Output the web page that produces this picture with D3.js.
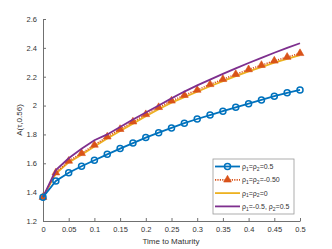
<!DOCTYPE html>
<html><head><meta charset="utf-8">
<script src="https://cdn.jsdelivr.net/npm/d3@7"></script>
<style>body{margin:0;background:#fff;} text{font-family:"Liberation Sans",Arial,sans-serif;}</style>
</head><body><svg id="c" width="332" height="249"></svg>
<script>
const tVals = [0,0.025,0.05,0.075,0.1,0.125,0.15,0.175,0.2,0.225,0.25,0.275,0.3,0.325,0.35,0.375,0.4,0.425,0.45,0.475,0.5];
const blue   = [1.365,1.477,1.535,1.579,1.621,1.662,1.702,1.740,1.778,1.812,1.845,1.878,1.907,1.934,1.961,1.988,2.013,2.039,2.065,2.088,2.108];
const orange = [1.365,1.535,1.616,1.669,1.727,1.784,1.836,1.888,1.939,1.988,2.033,2.072,2.108,2.147,2.182,2.217,2.250,2.280,2.310,2.336,2.362];
const yellow = [1.365,1.528,1.606,1.659,1.716,1.772,1.824,1.875,1.926,1.975,2.020,2.059,2.096,2.134,2.169,2.204,2.237,2.267,2.297,2.323,2.349];
const purple = [1.365,1.553,1.635,1.700,1.760,1.800,1.852,1.903,1.952,2.000,2.050,2.097,2.140,2.180,2.220,2.258,2.295,2.330,2.366,2.400,2.432];
const xTicks = [0,0.05,0.1,0.15,0.2,0.25,0.3,0.35,0.4,0.45,0.5];
const yTicks = [1.2,1.4,1.6,1.8,2,2.2,2.4,2.6];

const svg = d3.select("#c");
const x = d3.scaleLinear().domain([0,0.5]).range([43,300]);
const y = d3.scaleLinear().domain([1.2,2.6]).range([221,19]);
const axCol = "#707070";

const gx = svg.append("g").attr("transform","translate(0,221)")
  .call(d3.axisBottom(x).tickValues(xTicks).tickSizeInner(-3).tickSizeOuter(0).tickPadding(6).tickFormat(d=>d3.format("")(d)));
const gy = svg.append("g").attr("transform","translate(43,0)")
  .call(d3.axisLeft(y).tickValues(yTicks).tickSizeInner(-3).tickSizeOuter(0).tickPadding(6).tickFormat(d=>d3.format("")(d)));
[gx,gy].forEach(g=>{
  g.selectAll("path,line").attr("stroke",axCol);
  g.selectAll("text").attr("fill","#333").style("font-size","7.5px").style("font-family","Liberation Sans, Arial, sans-serif");
});

const line = d3.line().x((d,i)=>x(tVals[i])).y(d=>y(d));
const C = {blue:"#0072BD",orange:"#D95319",yellow:"#EDB120",purple:"#7E2F8E"};

svg.append("path").datum(yellow).attr("d",line).attr("fill","none").attr("stroke",C.yellow).attr("stroke-width",1.8);
svg.append("path").datum(orange).attr("d",line).attr("fill","none").attr("stroke",C.orange).attr("stroke-width",1.5).attr("stroke-dasharray","1.2,1.2");
svg.selectAll(".tri").data(orange).enter().append("path")
  .attr("d",d3.symbol().type(d3.symbolTriangle).size(26))
  .attr("transform",(d,i)=>`translate(${x(tVals[i])},${y(d)})`)
  .attr("fill",C.orange).attr("stroke",C.orange).attr("stroke-width",0.6);
svg.append("path").datum(purple).attr("d",line).attr("fill","none").attr("stroke",C.purple).attr("stroke-width",1.8);
svg.append("path").datum(blue).attr("d",line).attr("fill","none").attr("stroke",C.blue).attr("stroke-width",1.8);
svg.selectAll(".circ").data(blue).enter().append("circle")
  .attr("cx",(d,i)=>x(tVals[i])).attr("cy",d=>y(d)).attr("r",3)
  .attr("fill","none").attr("stroke",C.blue).attr("stroke-width",1.5);

// labels
svg.append("text").attr("x",171).attr("y",244).attr("text-anchor","middle").style("font-size","8px").attr("fill","#333").text("Time to Maturity");
svg.append("text").attr("transform","translate(22,120) rotate(-90)").attr("text-anchor","middle").style("font-size","8px").attr("fill","#333").text("A(τ,0.56)");

// legend
const lg = svg.append("g");
lg.append("rect").attr("x",213).attr("y",159).attr("width",81).attr("height",55).attr("fill","#fff").attr("stroke","#999").attr("stroke-width",0.8);
const items = [
  {c:C.blue, dash:null, mark:"o", parts:[["ρ",""],["1","sub"],["=ρ",""],["2","sub"],["=0.5",""]]},
  {c:C.orange, dash:"1.2,1.2", mark:"^", parts:[["ρ",""],["1","sub"],["=ρ",""],["2","sub"],["=-0.50",""]]},
  {c:C.yellow, dash:null, mark:null, parts:[["ρ",""],["1","sub"],["=ρ",""],["2","sub"],["=0",""]]},
  {c:C.purple, dash:null, mark:null, parts:[["ρ",""],["1","sub"],["=-0.5, ρ",""],["2","sub"],["=0.5",""]]}
];
items.forEach((it,k)=>{
  const yy = 166.5 + k*13.3;
  lg.append("line").attr("x1",215).attr("x2",240).attr("y1",yy).attr("y2",yy).attr("stroke",it.c).attr("stroke-width",1.8).attr("stroke-dasharray",it.dash);
  if(it.mark==="o") lg.append("circle").attr("cx",227.5).attr("cy",yy).attr("r",3).attr("fill","none").attr("stroke",it.c).attr("stroke-width",1.5);
  if(it.mark==="^") lg.append("path").attr("d",d3.symbol().type(d3.symbolTriangle).size(26)).attr("transform",`translate(227.5,${yy})`).attr("fill",it.c).attr("stroke",it.c).attr("stroke-width",0.6);
  const t = lg.append("text").attr("x",242).attr("y",yy+2.5).style("font-size","7px").attr("fill","#333");
  it.parts.forEach(p=>{
    const ts = t.append("tspan").text(p[0]);
    if(p[1]==="sub") ts.style("font-size","5px").attr("dy",1.8);
    else if(t.selectAll("tspan").size()>1) ts.attr("dy",-1.8);
  });
});
</script></body></html>
